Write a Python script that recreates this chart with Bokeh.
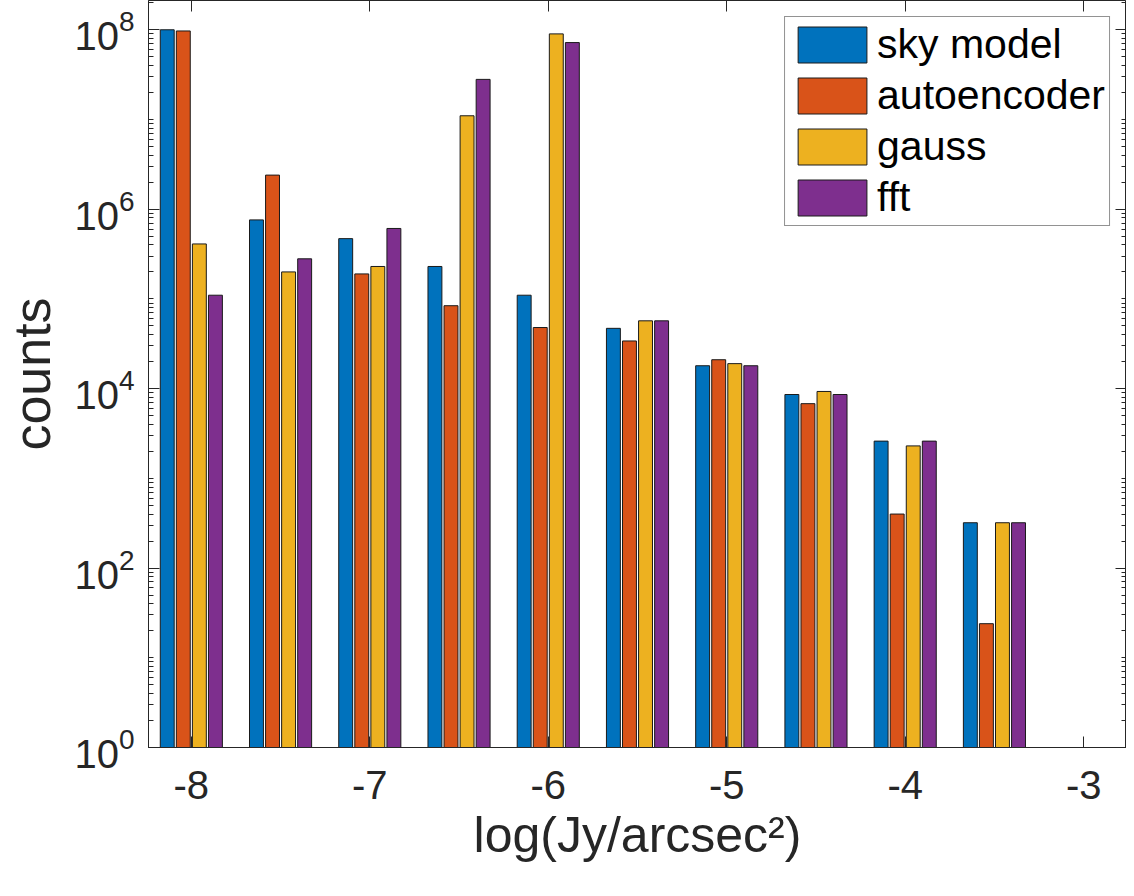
from bokeh.plotting import figure
from bokeh.models import (Range1d, FixedTicker, LinearAxis, LogAxis, ColumnDataSource,
                          Legend, LegendItem, CustomLabelingPolicy)
from bokeh.transform import dodge
from bokeh.embed import file_html
from bokeh.resources import INLINE

# ---- data ----
centers = [-8.0, -7.5, -7.0, -6.5, -6.0, -5.5, -5.0, -4.5, -4.0, -3.5]
sky_model = [1.0e8, 7.6e5, 4.7e5, 2.3e5, 1.1e5, 4.7e4, 1.8e4, 8.6e3, 2.6e3, 3.2e2]
autoencoder = [9.7e7, 2.4e6, 1.9e5, 8.4e4, 4.8e4, 3.4e4, 2.1e4, 6.8e3, 4.0e2, 24]
gauss = [4.1e5, 2.0e5, 2.3e5, 1.1e7, 9.0e7, 5.7e4, 1.9e4, 9.3e3, 2.3e3, 3.2e2]
fft = [1.1e5, 2.8e5, 6.1e5, 2.8e7, 7.2e7, 5.7e4, 1.8e4, 8.6e3, 2.6e3, 3.2e2]
series_names = ["sky model", "autoencoder", "gauss", "fft"]
series_colors = ["#0072BD", "#D95319", "#EDB120", "#7E2F8E"]
x_ticks = [-8, -7, -6, -5, -4, -3]
x_tick_labels = ["-8", "-7", "-6", "-5", "-4", "-3"]
y_ticks = [1, 1e2, 1e4, 1e6, 1e8]

FONT = "Liberation Sans"
TXT = "#262626"
X0, X1 = -8.24, -2.76
Y0, Y1 = 1, 2.12e8

src = ColumnDataSource(dict(x=centers, s0=sky_model, s1=autoencoder, s2=gauss, s3=fft))

p = figure(width=1126, height=888, output_backend="svg", toolbar_location=None,
           y_axis_type="log", x_range=Range1d(X0, X1), y_range=Range1d(Y0, Y1),
           min_border_left=143, min_border_right=0, min_border_top=0, min_border_bottom=141)
p.background_fill_color = "white"
p.border_fill_color = "white"
p.grid.visible = False
p.outline_line_color = TXT
p.outline_line_width = 1

offsets = [-0.135, -0.045, 0.045, 0.135]
renderers = []
for i, (name, col) in enumerate(zip(series_names, series_colors)):
    r = p.vbar(x=dodge("x", offsets[i], range=p.x_range), top="s%d" % i, bottom=1,
               width=0.078, source=src, fill_color=col, line_color="#1a1a1a", line_width=1)
    renderers.append((name, r))

minor = [m * 10 ** k for k in range(0, 9) for m in range(1, 10) if not (m == 1 and 10 ** k in y_ticks)]

# bottom x axis / left y axis
xa = p.xaxis[0]
xa.ticker = FixedTicker(ticks=x_ticks)
xa.major_label_overrides = {t: s for t, s in zip(x_ticks, x_tick_labels)}
xa.axis_label = "log(Jy/arcsec²)"
ya = p.yaxis[0]
ya.ticker = FixedTicker(ticks=y_ticks, minor_ticks=minor)
ya.axis_label = "counts"

for ax in (xa, ya):
    ax.major_tick_in = 11
    ax.major_tick_out = 0
    ax.minor_tick_in = 5
    ax.minor_tick_out = 0
    ax.axis_line_color = TXT
    ax.major_tick_line_color = TXT
    ax.minor_tick_line_color = TXT
    ax.major_label_text_font = FONT
    ax.major_label_text_font_size = "40px"
    ax.major_label_text_color = TXT
    ax.axis_label_text_font = FONT
    ax.axis_label_text_font_style = "normal"
    ax.axis_label_text_color = TXT
    ax.axis_label_text_line_height = 1.0
    ax.major_label_text_line_height = 1.0

xa.axis_label_text_font_size = "50px"
ya.axis_label_text_font_size = "52px"
xa.major_label_standoff = 23
xa.axis_label_standoff = 5
ya.major_label_standoff = 14
ya.axis_label_standoff = 10

# box ticks on top and right (no labels), fixed at the frame edges
no_labels = "for (const i of [...indices]) { indices.unset(i) }\nreturn indices"
top = LinearAxis(ticker=FixedTicker(ticks=x_ticks), major_label_text_font_size="1px",
                 major_label_policy=CustomLabelingPolicy(code=no_labels),
                 fixed_location=Y1,
                 major_label_standoff=0, major_tick_in=11, major_tick_out=0,
                 minor_tick_in=0, minor_tick_out=0, axis_line_color=TXT,
                 major_tick_line_color=TXT)
p.add_layout(top, "above")
right = LogAxis(ticker=FixedTicker(ticks=y_ticks, minor_ticks=minor), major_label_text_font_size="1px",
                major_label_policy=CustomLabelingPolicy(code=no_labels),
                fixed_location=X1,
                major_label_standoff=0, major_tick_in=11, major_tick_out=0,
                minor_tick_in=5, minor_tick_out=0, axis_line_color=TXT,
                major_tick_line_color=TXT, minor_tick_line_color=TXT)
p.add_layout(right, "right")

legend = Legend(items=[LegendItem(label=n, renderers=[r]) for n, r in renderers],
                location="top_right")
legend.label_text_font = FONT
legend.label_text_font_size = "41px"
legend.label_text_color = "black"
legend.glyph_width = 86
legend.glyph_height = 45
legend.label_height = 45
legend.spacing = 4
legend.padding = 4
legend.margin = 16
legend.label_standoff = 2
legend.border_line_color = TXT
legend.border_line_width = 1
legend.background_fill_alpha = 1
p.add_layout(legend)

open("out.html", "w").write(file_html(p, INLINE))
